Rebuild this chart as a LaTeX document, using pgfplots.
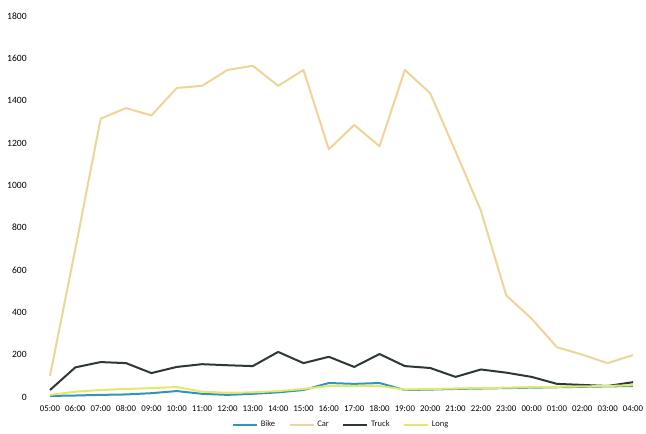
\documentclass[border=0pt]{standalone}
\usepackage{pgfplots}
\pgfplotsset{compat=1.18}
\usepackage{fontspec}
\setmainfont{Carlito}

\definecolor{bikec}{HTML}{2E94C0}
\definecolor{carc}{HTML}{EED496}
\definecolor{truckc}{HTML}{2D3834}
\definecolor{longc}{HTML}{E4E86A}

\begin{document}
\begin{tikzpicture}
\begin{axis}[
  name=ax,
  scale only axis,
  width=437.25pt, height=285.75pt,
  xmin=0, xmax=23,
  ymin=0, ymax=1800,
  axis line style={draw=none},
  clip=false,
  xtick={0,...,23},
  xticklabels={05:00,06:00,07:00,08:00,09:00,10:00,11:00,12:00,13:00,14:00,15:00,16:00,17:00,18:00,19:00,20:00,21:00,22:00,23:00,00:00,01:00,02:00,03:00,04:00},
  ytick={0,200,...,1800},
  /pgf/number format/assume math mode=true,
  /pgf/number format/set thousands separator={},
  xticklabel style={font=\fontsize{6.6}{7}\selectfont\color{black}, yshift=-2.5pt, text height=4.6pt},
  yticklabel style={font=\fontsize{7.2}{8}\selectfont\color{black}, xshift=-14pt},
  major tick length=0pt,
  tick style={draw=none},
  legend style={draw=none, fill=none, at={(0.5,0)}, anchor=center,
    yshift=-21pt,
    font=\fontsize{6.4}{7}\selectfont\color{black!90},
    /tikz/every even column/.append style={column sep=8pt}},
  legend columns=4,
  legend image code/.code={\draw[#1, line width=1.6pt] (0pt,0pt) -- (18pt,0pt);},
  every axis plot/.append style={line width=1.5pt, line join=round},
]
\addplot[bikec] coordinates {
 (0,5) (1,7) (2,10) (3,12) (4,18) (5,28) (6,15) (7,10) (8,15) (9,22) (10,33) (11,66)
 (12,62) (13,66) (14,33) (15,35) (16,38) (17,40) (18,42) (19,44) (20,46) (21,48) (22,50) (23,52)};
\addlegendentry{Bike}
\addplot[carc] coordinates {
 (0,100) (1,700) (2,1315) (3,1365) (4,1330) (5,1460) (6,1470) (7,1545) (8,1565) (9,1470) (10,1545) (11,1170)
 (12,1285) (13,1185) (14,1545) (15,1435) (16,1160) (17,880) (18,480) (19,370) (20,235) (21,200) (22,160) (23,198)};
\addlegendentry{Car}
\addplot[truckc] coordinates {
 (0,33) (1,140) (2,165) (3,160) (4,113) (5,142) (6,155) (7,150) (8,146) (9,213) (10,160) (11,190)
 (12,142) (13,203) (14,146) (15,137) (16,95) (17,130) (18,115) (19,95) (20,62) (21,57) (22,52) (23,70)};
\addlegendentry{Truck}
\addplot[longc] coordinates {
 (0,10) (1,25) (2,33) (3,38) (4,42) (5,47) (6,25) (7,20) (8,22) (9,28) (10,38) (11,52)
 (12,52) (13,52) (14,35) (15,38) (16,40) (17,42) (18,44) (19,46) (20,48) (21,50) (22,52) (23,56)};
\addlegendentry{Long}
\end{axis}
\pgfresetboundingbox
\path[use as bounding box] (-37.5pt,-27.75pt) rectangle (447pt,297.75pt);
\end{tikzpicture}
\end{document}
